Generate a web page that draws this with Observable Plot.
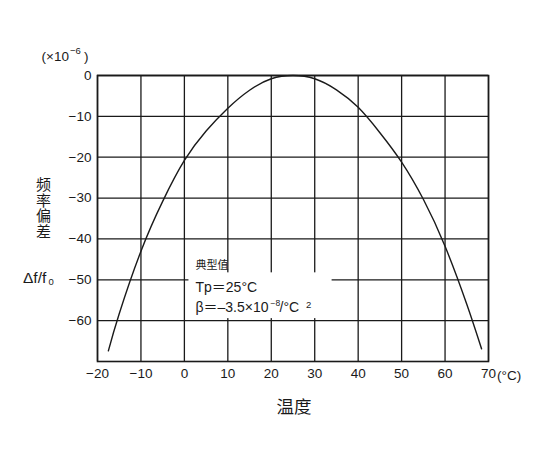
<!DOCTYPE html>
<html>
<head>
<meta charset="utf-8">
<script src="https://cdn.jsdelivr.net/npm/d3@7"></script>
<script src="https://cdn.jsdelivr.net/npm/@observablehq/plot@0.6"></script>
<style>
  html, body { margin: 0; padding: 0; background: #fff; }
  svg { font-family: "Liberation Sans", Arial, "Noto Sans CJK SC", sans-serif; }
</style>
</head>
<body>
<div id="chart"></div>
<script>
// Temperature (°C) and frequency deviation (×10^-6)
const temperature = [-17.5, -15, -10, -5, 0, 5, 10, 15, 20, 25, 30, 35, 40, 45, 50, 55, 60, 65, 68.4];
const deviation   = [-67.4, -58.3, -43.0, -30.8, -20.8, -13.6, -8.0, -3.6, -0.8, 0, -0.8, -3.5, -7.8, -14.0, -21.2, -30.3, -41.8, -56.0, -66.9];
const xTicks = [-20, -10, 0, 10, 20, 30, 40, 50, 60, 70];
const yTicks = [0, -10, -20, -30, -40, -50, -60];

const data = temperature.map((t, i) => ({t, d: deviation[i]}));
const minus = v => (v < 0 ? "\u2212" + Math.abs(v) : String(v));
const ink = "#1a1a1a";

const chart = Plot.plot({
  width: 549,
  height: 460,
  marginLeft: 97,
  marginRight: 61,
  marginTop: 75,
  marginBottom: 99,
  style: {fontFamily: '"Liberation Sans", Arial, "Noto Sans CJK SC", sans-serif', background: "#fff", color: ink},
  x: {domain: [-20, 70]},
  y: {domain: [-70, 0]},
  marks: [
    Plot.gridX(xTicks, {stroke: ink, strokeOpacity: 1, strokeWidth: 1.3}),
    Plot.gridY(yTicks, {stroke: ink, strokeOpacity: 1, strokeWidth: 1.3}),
    // white label box masking the grid
    Plot.rect([0], {x1: 1.05, x2: 34, y1: -48.3, y2: -59.5, fill: "white"}),
    Plot.frame({stroke: ink, strokeWidth: 1.6}),
    Plot.axisX({ticks: xTicks, tickSize: 0, tickPadding: 7, fontSize: 13.5, tickFormat: minus, label: null}),
    Plot.axisY({ticks: yTicks, tickSize: 0, tickPadding: 6, fontSize: 13.5, tickFormat: minus, label: null}),
    Plot.line(data, {x: "t", y: "d", curve: "natural", stroke: ink, strokeWidth: 1.4}),
    // unit above y axis
    Plot.text(["(×10"], {frameAnchor: "top-left", dx: -56, dy: -19, textAnchor: "start", lineAnchor: "middle", fontSize: 13.5, fill: ink}),
    Plot.text(["\u22126"], {frameAnchor: "top-left", dx: -27.5, dy: -25, textAnchor: "start", lineAnchor: "middle", fontSize: 9.5, fill: ink}),
    Plot.text([")"], {frameAnchor: "top-left", dx: -13.5, dy: -19, textAnchor: "start", lineAnchor: "middle", fontSize: 13.5, fill: ink}),
    // y label
    Plot.text(["频\n率\n偏\n差"], {frameAnchor: "top-left", dx: -54, dy: 133, textAnchor: "middle", lineAnchor: "middle", lineHeight: 1.03, fontSize: 15, fill: ink}),
    Plot.text(["Δf/f"], {frameAnchor: "top-left", dx: -74.5, dy: 203, textAnchor: "start", lineAnchor: "middle", fontSize: 15.5, fill: ink}),
    Plot.text(["0"], {frameAnchor: "top-left", dx: -49, dy: 206, textAnchor: "start", lineAnchor: "middle", fontSize: 9.5, fill: ink}),
    // x label
    Plot.text(["(°C)"], {frameAnchor: "bottom-right", dx: 8.5, dy: 14, textAnchor: "start", lineAnchor: "middle", fontSize: 13.5, fill: ink}),
    Plot.text(["温度"], {frameAnchor: "bottom", dx: 1, dy: 46, textAnchor: "middle", lineAnchor: "middle", fontSize: 17.5, fill: ink}),
    // annotation
    Plot.text(["典型值"], {frameAnchor: "top-left", dx: 98, dy: 190, textAnchor: "start", lineAnchor: "middle", fontSize: 11, fill: ink}),
    Plot.text(["Tp＝25°C"], {frameAnchor: "top-left", dx: 98, dy: 212.5, textAnchor: "start", lineAnchor: "middle", fontSize: 14, fill: ink}),
    Plot.text(["β＝–3.5×10"], {frameAnchor: "top-left", dx: 98, dy: 232.5, textAnchor: "start", lineAnchor: "middle", fontSize: 14, fill: ink}),
    Plot.text(["\u22128"], {frameAnchor: "top-left", dx: 173, dy: 228, textAnchor: "start", lineAnchor: "middle", fontSize: 8.5, fill: ink}),
    Plot.text(["/°C"], {frameAnchor: "top-left", dx: 182, dy: 232.5, textAnchor: "start", lineAnchor: "middle", fontSize: 14, fill: ink}),
    Plot.text(["2"], {frameAnchor: "top-left", dx: 208.5, dy: 229, textAnchor: "start", lineAnchor: "middle", fontSize: 9.5, fill: ink})
  ]
});
document.getElementById("chart").appendChild(chart);
</script>
</body>
</html>
